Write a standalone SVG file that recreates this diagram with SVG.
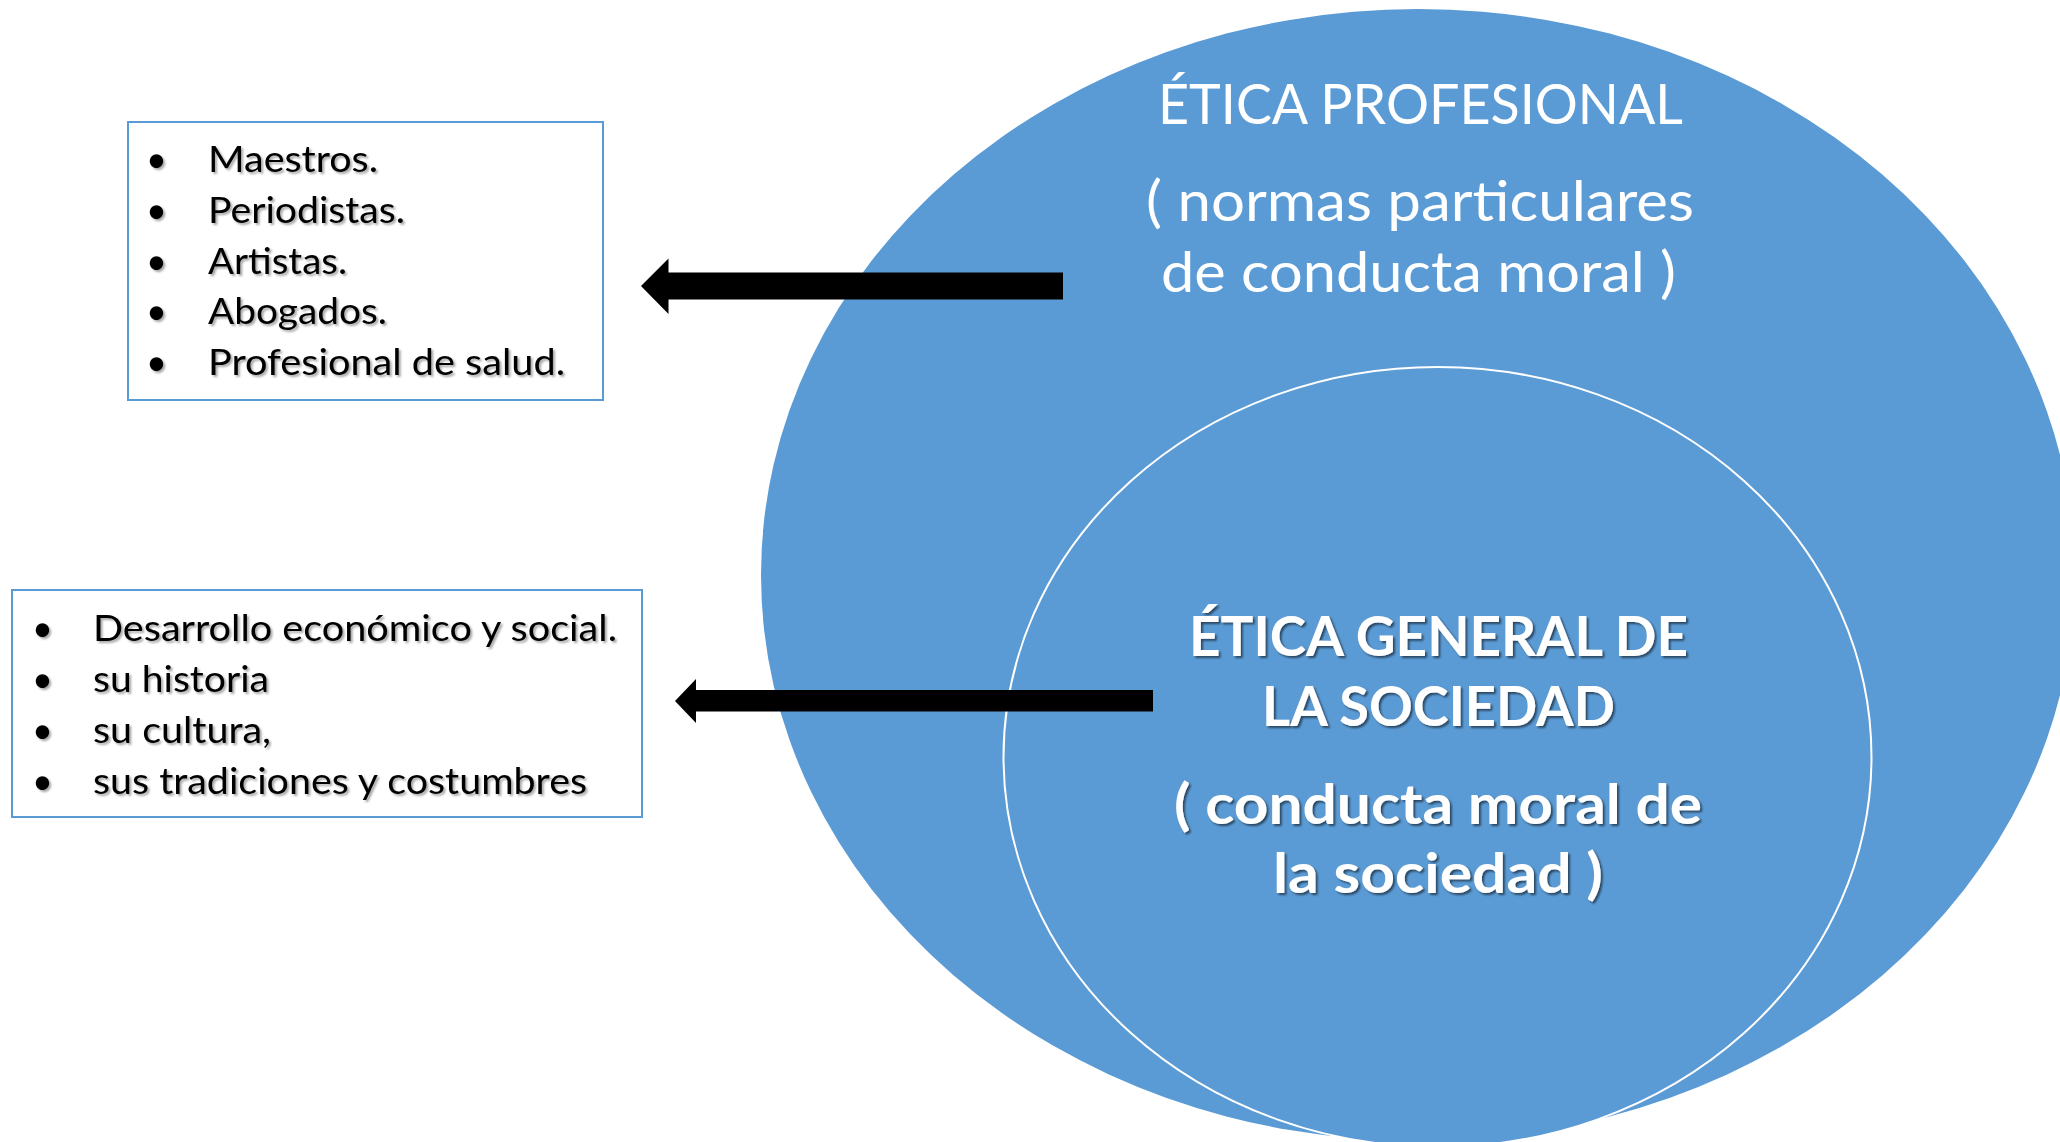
<svg xmlns="http://www.w3.org/2000/svg" width="2060" height="1142" viewBox="0 0 2060 1142">
<defs>
<filter id="shDark" x="-5%" y="-20%" width="110%" height="140%">
<feDropShadow dx="2" dy="2" stdDeviation="1.2" flood-color="#000" flood-opacity="0.55"/>
</filter>
<filter id="shGray" x="-5%" y="-20%" width="110%" height="140%">
<feDropShadow dx="2" dy="2" stdDeviation="1" flood-color="#000" flood-opacity="0.35"/>
</filter>
</defs>
<style>
.ell{fill:#5B9BD5}
.inner{fill:#5B9BD5;stroke:#FFFFFF;stroke-width:2}
.box{fill:#FFFFFF;stroke:#5B9BD5;stroke-width:2}
.item{font-family:Lato,"Open Sans","Liberation Sans",sans-serif;font-size:36px;fill:#000}
.ttl{font-family:Lato,"Open Sans","Liberation Sans",sans-serif;font-size:56px;fill:#FFFFFF}
.bold{font-family:Lato,"Open Sans","Liberation Sans",sans-serif;font-size:55px;font-weight:bold;fill:#FFFFFF}
.arrow{fill:#000}
</style>

<g id="outer">
<ellipse class="ell" cx="1418" cy="575" rx="657" ry="566"/>
<text class="ttl" x="1158" y="124" textLength="525" lengthAdjust="spacingAndGlyphs">ÉTICA PROFESIONAL</text>
<text class="ttl" x="1146" y="221" textLength="548" lengthAdjust="spacingAndGlyphs">( normas particulares</text>
<text class="ttl" x="1161" y="292" textLength="515" lengthAdjust="spacingAndGlyphs">de conducta moral )</text>
</g>

<g id="inner">
<ellipse class="inner" cx="1437.5" cy="757" rx="434" ry="390"/>
</g>

<g id="connectors">
<polygon class="arrow" points="641,286 668.5,258.5 668.5,272.5 1063,272.5 1063,299.5 668.5,299.5 668.5,314"/>
<polygon class="arrow" points="675,701 696,679 696,690 1153,690 1153,711.5 696,711.5 696,723"/>
</g>

<g id="inner-text" filter="url(#shDark)">
<text class="bold" x="1189" y="656" textLength="499" lengthAdjust="spacingAndGlyphs">ÉTICA GENERAL DE</text>
<text class="bold" x="1262" y="726" textLength="353" lengthAdjust="spacingAndGlyphs">LA SOCIEDAD</text>
<text class="bold" x="1174" y="824" textLength="528" lengthAdjust="spacingAndGlyphs">( conducta moral de</text>
<text class="bold" x="1273" y="893" textLength="330" lengthAdjust="spacingAndGlyphs">la sociedad )</text>
</g>

<g id="box-profesiones">
<rect class="box" x="128" y="122" width="475" height="278"/>
<g filter="url(#shGray)">
<text class="item" x="146" y="172">•</text>
<text class="item" x="208" y="172" textLength="170" lengthAdjust="spacingAndGlyphs">Maestros.</text>
<text class="item" x="146" y="223">•</text>
<text class="item" x="208" y="223" textLength="197" lengthAdjust="spacingAndGlyphs">Periodistas.</text>
<text class="item" x="146" y="274">•</text>
<text class="item" x="208" y="274" textLength="139" lengthAdjust="spacingAndGlyphs">Artistas.</text>
<text class="item" x="146" y="324">•</text>
<text class="item" x="208" y="324" textLength="179" lengthAdjust="spacingAndGlyphs">Abogados.</text>
<text class="item" x="146" y="375">•</text>
<text class="item" x="208" y="375" textLength="357" lengthAdjust="spacingAndGlyphs">Profesional de salud.</text>
</g>
</g>

<g id="box-sociedad">
<rect class="box" x="12" y="590" width="630" height="227"/>
<g filter="url(#shGray)">
<text class="item" x="32" y="641">•</text>
<text class="item" x="93" y="641" textLength="524" lengthAdjust="spacingAndGlyphs">Desarrollo económico y social.</text>
<text class="item" x="32" y="692">•</text>
<text class="item" x="93" y="692" textLength="176" lengthAdjust="spacingAndGlyphs">su historia</text>
<text class="item" x="32" y="743">•</text>
<text class="item" x="93" y="743" textLength="178" lengthAdjust="spacingAndGlyphs">su cultura,</text>
<text class="item" x="32" y="794">•</text>
<text class="item" x="93" y="794" textLength="494" lengthAdjust="spacingAndGlyphs">sus tradiciones y costumbres</text>
</g>
</g>
</svg>
